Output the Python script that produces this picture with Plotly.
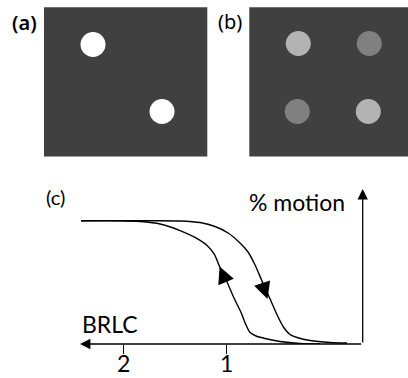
import plotly.graph_objects as go

# ---- stimulus panels (a) and (b): dot positions in panel units ----
panel_bg = "#404040"
a_dot_x = [49, 118]
a_dot_y = [112, 45]
a_dot_color = ["#ffffff", "#ffffff"]

b_dot_x = [49, 120, 48, 119]
b_dot_y = [113, 113, 45, 45]
b_dot_color = ["#b3b3b3", "#808080", "#808080", "#b3b3b3"]

# ---- panel (c): hysteresis of perceived motion against BRLC ----
# falling branch (BRLC decreasing, % motion drops)
down_brlc = [2.405, 1.740, 1.450, 1.257, 1.113, 0.987, 0.872, 0.795, 0.727,
             0.660, 0.582, 0.505, 0.447, 0.390, 0.322, 0.197, 0.004, -0.160]
down_pct = [100, 100, 99.8, 98.5, 95.3, 90.0, 81.9, 74.6, 64.1,
            51.1, 36.5, 21.9, 13.0, 7.7, 5.3, 2.8, 1.2, 0.8]
# rising branch (BRLC increasing, % motion recovers)
up_brlc = [2.405, 2.029, 1.836, 1.643, 1.450, 1.306, 1.190, 1.122, 1.065,
           0.997, 0.930, 0.862, 0.814, 0.775, 0.717, 0.631, 0.486, 0.293, 0.100]
up_pct = [100, 100, 99.3, 97.3, 92.0, 86.4, 79.9, 73.0, 62.0,
          50.3, 37.3, 25.5, 15.4, 9.3, 6.5, 4.5, 2.0, 0.4, 0.0]

brlc_ticks = [2, 1]
brlc_range = [2.415, -0.311]
pct_range = [0, 125.7]

W, H = 408, 378

fig = go.Figure()

# panel (a)
fig.add_trace(go.Scatter(x=a_dot_x, y=a_dot_y, mode="markers",
                         marker=dict(size=25, color=a_dot_color, line=dict(width=0)),
                         xaxis="x", yaxis="y", hoverinfo="skip"))
# panel (b)
fig.add_trace(go.Scatter(x=b_dot_x, y=b_dot_y, mode="markers",
                         marker=dict(size=25, color=b_dot_color, line=dict(width=0)),
                         xaxis="x2", yaxis="y2", hoverinfo="skip"))
# panel (c)
for xs, ys in [(down_brlc, down_pct), (up_brlc, up_pct)]:
    fig.add_trace(go.Scatter(x=xs, y=ys, mode="lines",
                             line=dict(color="black", width=1.4, shape="spline", smoothing=0.8),
                             xaxis="x3", yaxis="y3", hoverinfo="skip"))

hidden = dict(visible=False, fixedrange=True, automargin=False)
fig.update_layout(
    width=W, height=H,
    margin=dict(l=0, r=0, t=0, b=0, autoexpand=False),
    paper_bgcolor="white", plot_bgcolor="rgba(0,0,0,0)",
    showlegend=False,
    xaxis=dict(domain=[44 / W, 207.3 / W], range=[0, 163.3], anchor="y", **hidden),
    yaxis=dict(domain=[(H - 156.5) / H, (H - 7.3) / H], range=[0, 149.2], anchor="x", **hidden),
    xaxis2=dict(domain=[249.3 / W, 1.0], range=[0, 158.7], anchor="y2", **hidden),
    yaxis2=dict(domain=[(H - 156.5) / H, (H - 7.3) / H], range=[0, 149.2], anchor="x2", **hidden),
    xaxis3=dict(domain=[80 / W, 362.7 / W], range=brlc_range, anchor="y3",
                showline=False, showgrid=False, zeroline=False, automargin=False,
                ticks="outside", ticklen=9, tickwidth=1.3, tickcolor="black",
                tickvals=brlc_ticks, showticklabels=False, fixedrange=True),
    yaxis3=dict(domain=[(H - 344) / H, (H - 189) / H], range=pct_range, anchor="x3", **hidden),
)

# dark stimulus backgrounds
for xr, yr in [("x", "y"), ("x2", "y2")]:
    fig.add_shape(type="rect", xref=f"{xr} domain", yref=f"{yr} domain",
                  x0=0, x1=1, y0=0, y1=1, fillcolor=panel_bg, line=dict(width=0),
                  layer="below")

# axes of panel (c) drawn as arrows
arrow_common = dict(xref="x3", yref="y3", axref="x3", ayref="y3", text="",
                    showarrow=True, arrowhead=2, arrowsize=1.6, arrowwidth=1.3,
                    arrowcolor="black", standoff=0, startstandoff=0)
fig.add_annotation(x=brlc_range[0], y=0, ax=brlc_range[1], ay=0, **arrow_common)
fig.add_annotation(x=brlc_range[1], y=pct_range[1], ax=brlc_range[1], ay=0, **arrow_common)

# BRLC tick labels, placed under the tick marks
for t in brlc_ticks:
    fig.add_annotation(x=t, xref="x3", y=0, yref="paper", text=str(t),
                       showarrow=False, xanchor="center", yanchor="bottom",
                       borderpad=0,
                       font=dict(family="Lato", size=23, color="black"))

# direction arrows on the two branches
dir_common = dict(xref="x3", yref="y3", axref="x3", ayref="y3", text="",
                  showarrow=True, arrowhead=2, arrowsize=2.4, arrowwidth=1.4,
                  arrowcolor="black", standoff=0, startstandoff=0)
fig.add_annotation(x=1.069, y=62.9, ax=1.010, ay=51.0, **dir_common)
fig.add_annotation(x=0.607, y=36.5, ax=0.665, ay=51.0, **dir_common)

# text labels
lab = dict(xref="paper", yref="paper", showarrow=False, xanchor="center", yanchor="middle")
fig.add_annotation(x=24.7 / W, y=1 - 23 / H, text="(a)",
                   font=dict(family="Noto Sans", size=20, color="black", weight=600), **lab)
fig.add_annotation(x=230.3 / W, y=1 - 21 / H, text="(b)",
                   font=dict(family="Noto Sans", size=20, color="black"), **lab)
fig.add_annotation(x=55 / W, y=1 - 197 / H, text="(c)",
                   font=dict(family="Lato", size=20, color="black"), **lab)
fig.add_annotation(x=296.5 / W, y=1 - 202 / H, text="% motion",
                   font=dict(family="Lato", size=23, color="black"), **lab)
fig.add_annotation(x=110 / W, y=1 - 324 / H, text="BRLC",
                   font=dict(family="Lato", size=23, color="black"), **lab)

fig.write_html("out.html")
